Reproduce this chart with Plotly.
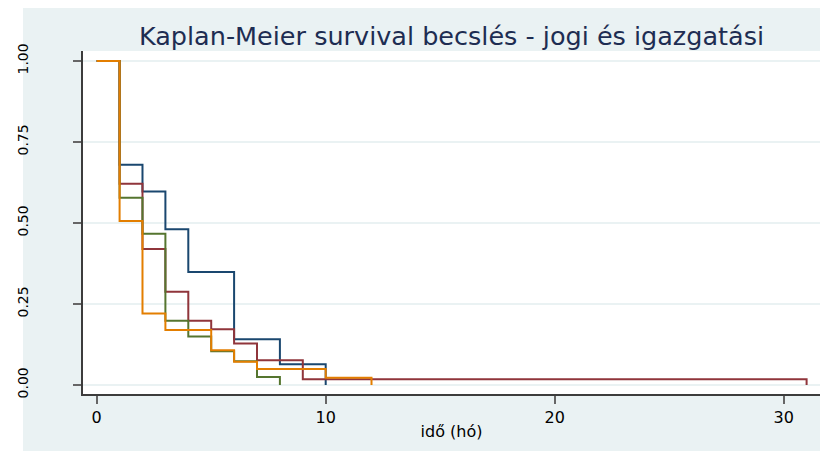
import plotly.graph_objects as go

# Kaplan-Meier step data (time in months, survival estimate)
t_blue = [0, 1, 2, 3, 4, 6, 8, 10]
s_blue = [1.0, 0.680, 0.597, 0.481, 0.349, 0.141, 0.064, 0.0]

t_red = [0, 1, 2, 3, 4, 5, 6, 7, 9, 31]
s_red = [1.0, 0.621, 0.420, 0.288, 0.198, 0.172, 0.128, 0.076, 0.018, 0.0]

t_green = [0, 1, 2, 3, 4, 5, 6, 7, 8]
s_green = [1.0, 0.578, 0.467, 0.198, 0.150, 0.104, 0.073, 0.025, 0.0]

t_orange = [0, 1, 2, 3, 5, 6, 7, 10, 12]
s_orange = [1.0, 0.506, 0.221, 0.170, 0.107, 0.072, 0.049, 0.022, 0.0]

y_ticks = [0, 0.25, 0.5, 0.75, 1.0]
y_labels = ["0.00", "0.25", "0.50", "0.75", "1.00"]
x_ticks = [0, 10, 20, 30]
x_labels = ["0", "10", "20", "30"]

series = [
    (t_blue, s_blue, "#1a476f"),
    (t_red, s_red, "#90353b"),
    (t_green, s_green, "#55752f"),
    (t_orange, s_orange, "#e37e00"),
]

# the page body has an 8px margin, so the figure is drawn 8px in from the top-left
W, H = 821, 443
L, R, T, B = 75, 9, 43, 57
BG = "#eaf2f3"
FONT = "DejaVu Sans"

fig = go.Figure()
for t, s, c in series:
    fig.add_trace(go.Scatter(x=t, y=s, mode="lines", line=dict(shape="hv", color=c, width=2),
                             showlegend=False, hoverinfo="skip"))

pw, ph = W - L - R, H - T - B
def px_x(p):
    return (p - L) / pw
def px_y(p):
    return (H - B - p) / ph

shapes = [
    dict(type="rect", xref="paper", yref="paper", x0=px_x(-20), x1=px_x(15), y0=px_y(H + 20), y1=px_y(-20),
         fillcolor="white", line_width=0, layer="below"),
    dict(type="rect", xref="paper", yref="paper", x0=px_x(W - R), x1=px_x(W + 20), y0=px_y(H + 20), y1=px_y(-20),
         fillcolor="white", line_width=0, layer="below"),
]

fig.update_layout(
    template="none",
    width=W, height=H,
    margin=dict(l=L, r=R, t=T, b=B, pad=0),
    paper_bgcolor=BG,
    plot_bgcolor="white",
    shapes=shapes,
    font=dict(family=FONT, color="#000000"),
    title=dict(text="Kaplan-Meier survival becslés - jogi és igazgatási",
               font=dict(family=FONT, size=25.5, color="#1e2d52"),
               x=0.5, xanchor="center", xref="paper",
               y=1 - 28 / H, yanchor="middle", yref="container"),
    xaxis=dict(range=[-0.598, 31.585], tickvals=x_ticks, ticktext=x_labels,
               showgrid=False, zeroline=False, showline=True, linecolor="#3c3c3c", linewidth=1.5,
               ticks="outside", ticklen=8, tickcolor="#666666", tickwidth=1.5,
               tickfont=dict(family=FONT, size=16, color="#000000"),
               title=dict(text="idő (hó)", font=dict(family=FONT, size=16, color="#000000"), standoff=0),
               automargin=False),
    yaxis=dict(range=[-0.0278, 1.0309], tickvals=y_ticks, ticktext=y_labels,
               showgrid=True, gridcolor=BG, gridwidth=1.5, zeroline=False,
               showline=True, linecolor="#3c3c3c", linewidth=1.5,
               ticks="outside", ticklen=8, tickcolor="#666666", tickwidth=1.5,
               tickangle=-90, ticklabelstandoff=40,
               tickfont=dict(family=FONT, size=14, color="#000000"),
               automargin=False),
)

fig.write_html("out.html")
